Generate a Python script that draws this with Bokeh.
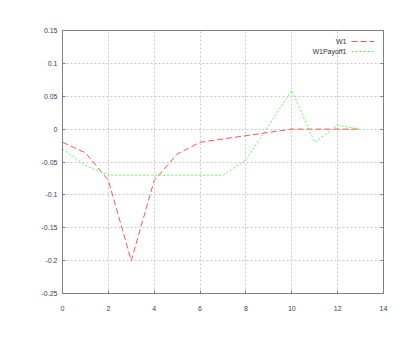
from bokeh.plotting import figure
from bokeh.models import FixedTicker, LinearAxis, Legend, LegendItem, Label, Range1d
from bokeh.embed import file_html
from bokeh.resources import INLINE

x = [0, 1, 2, 3, 4, 5, 6, 7, 8, 9, 10, 11, 12, 13]
w1 = [-0.02, -0.036, -0.078, -0.2, -0.078, -0.038, -0.02, -0.015, -0.01, -0.005, 0.0, 0.0, 0.0, 0.0]
w1_payoff1 = [-0.03, -0.055, -0.07, -0.07, -0.07, -0.07, -0.07, -0.07, -0.047, 0.006, 0.059, -0.02, 0.006, 0.0]

x_ticks = [0, 2, 4, 6, 8, 10, 12, 14]
x_tick_labels = ["0", "2", "4", "6", "8", "10", "12", "14"]
y_ticks = [-0.25, -0.2, -0.15, -0.1, -0.05, 0.0, 0.05, 0.1, 0.15]
y_tick_labels = ["-0.25", "-0.2", "-0.15", "-0.1", "-0.05", "0", "0.05", "0.1", "0.15"]
series_names = ["W1", "W1Payoff1"]

p = figure(width=408, height=328, output_backend="svg", toolbar_location=None,
           x_range=Range1d(0, 14), y_range=Range1d(-0.25, 0.15),
           min_border_left=62, min_border_right=25, min_border_top=30, min_border_bottom=35)
p.background_fill_color = "white"
p.border_fill_color = "white"
p.outline_line_color = "#808080"
p.outline_line_width = 1

font = "Liberation Sans"
label_color = "#3a3a6a"
for ax in (p.xaxis[0], p.yaxis[0]):
    ax.axis_line_color = "#808080"
    ax.major_tick_line_color = "#808080"
    ax.minor_tick_line_color = None
    ax.major_tick_in = 3
    ax.major_tick_out = 0
    ax.major_label_text_font = font
    ax.major_label_text_font_size = "7px"
    ax.major_label_text_color = label_color
p.xaxis[0].ticker = FixedTicker(ticks=x_ticks)
p.xaxis[0].major_label_overrides = dict(zip(x_ticks, x_tick_labels))
p.xaxis[0].major_label_standoff = 12
p.yaxis[0].ticker = FixedTicker(ticks=y_ticks)
p.yaxis[0].major_label_overrides = dict(zip(y_ticks, y_tick_labels))
p.yaxis[0].major_label_standoff = 5

right = LinearAxis(ticker=FixedTicker(ticks=y_ticks),
                   major_label_overrides={t: "" for t in y_ticks},
                   axis_line_color="#808080", major_tick_line_color="#808080",
                   minor_tick_line_color=None, major_tick_in=3, major_tick_out=0)
p.add_layout(right, "right")

p.xgrid.ticker = FixedTicker(ticks=x_ticks)
p.ygrid.ticker = FixedTicker(ticks=y_ticks)
for g in (p.xgrid[0], p.ygrid[0]):
    g.grid_line_color = "#c8c8c8"
    g.grid_line_dash = "2 2"
    g.grid_line_width = 1

r1 = p.line(x, w1, line_color="#ff5555", line_dash="6 3", line_width=1)
r2 = p.line(x, w1_payoff1, line_color="#55ff55", line_dash="2 2", line_width=1)

legend = Legend(items=[LegendItem(label="", renderers=[r1]), LegendItem(label="", renderers=[r2])],
                location=(289, 238), glyph_width=23, glyph_height=8, label_width=0,
                label_height=8, label_standoff=0, spacing=2, padding=0, margin=0,
                border_line_color=None, background_fill_alpha=0)
p.add_layout(legend, "center")

for i, name in enumerate(series_names):
    p.add_layout(Label(x=284, y=252 - 10.3 * i, x_units="screen", y_units="screen",
                       text=name, text_align="right", text_baseline="middle",
                       text_font=font, text_font_size="7px", text_color="#333333"))

open("out.html", "w").write(file_html(p, INLINE))
